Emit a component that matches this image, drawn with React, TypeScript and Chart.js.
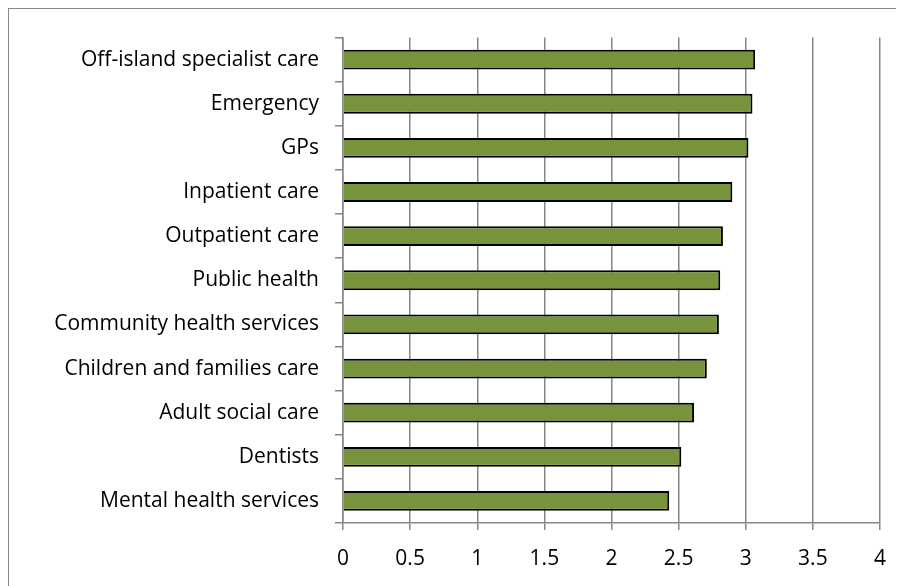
import React, { useEffect, useRef } from "react";
import { Chart, registerables } from "chart.js";

Chart.register(...registerables);

const categories = [
  "Off-island specialist care",
  "Emergency",
  "GPs",
  "Inpatient care",
  "Outpatient care",
  "Public health",
  "Community health services",
  "Children and families care",
  "Adult social care",
  "Dentists",
  "Mental health services",
];
const scores = [3.07, 3.05, 3.02, 2.9, 2.83, 2.81, 2.8, 2.71, 2.615, 2.52, 2.43];
const xTicks = [0, 0.5, 1, 1.5, 2, 2.5, 3, 3.5, 4];

const GRID = "#868686";
const FONT = { family: "'Open Sans', sans-serif", size: 21 };

export default function App() {
  const ref = useRef<HTMLCanvasElement | null>(null);
  useEffect(() => {
    if (!ref.current) return;
    const chart = new Chart(ref.current, {
      type: "bar",
      data: {
        labels: categories,
        datasets: [
          {
            data: scores,
            backgroundColor: "#77933C",
            borderColor: "#000000",
            borderWidth: 2,
            categoryPercentage: 1,
            barPercentage: 0.45,
          },
        ],
      },
      options: {
        indexAxis: "y",
        animation: false,
        responsive: false,
        maintainAspectRatio: false,
        layout: { padding: { top: 28, right: 24, left: 0, bottom: 0 } },
        plugins: { legend: { display: false }, tooltip: { enabled: false } },
        scales: {
          x: {
            min: 0,
            max: 4,
            afterBuildTicks: (s: any) => {
              s.ticks = xTicks.map((v) => ({ value: v }));
            },
            afterFit: (s: any) => {
              s.height = 63;
            },
            grid: { color: GRID, lineWidth: 1.5, tickLength: 7, drawTicks: true },
            border: { display: true, color: GRID, width: 1.5 },
            ticks: {
              color: "#000",
              font: FONT,
              padding: 16,
              callback: (v: any) => String(v),
            },
          },
          y: {
            afterFit: (s: any) => {
              s.width = 334;
            },
            grid: {
              display: true,
              drawOnChartArea: false,
              drawTicks: true,
              tickLength: 8,
              color: GRID,
              lineWidth: 1.5,
              offset: true,
            },
            border: { display: true, color: GRID, width: 1.5 },
            ticks: { color: "#000", font: FONT, padding: 16 },
          },
        },
      },
    });
    return () => chart.destroy();
  }, []);
  return (
    <div
      style={{
        borderTop: "1px solid #888",
        borderLeft: "1px solid #888",
        width: 896,
        height: 578,
        boxSizing: "border-box",
        background: "#fff",
        overflow: "hidden",
      }}
    >
      <canvas ref={ref} width={895} height={577} style={{ display: "block" }} />
    </div>
  );
}
